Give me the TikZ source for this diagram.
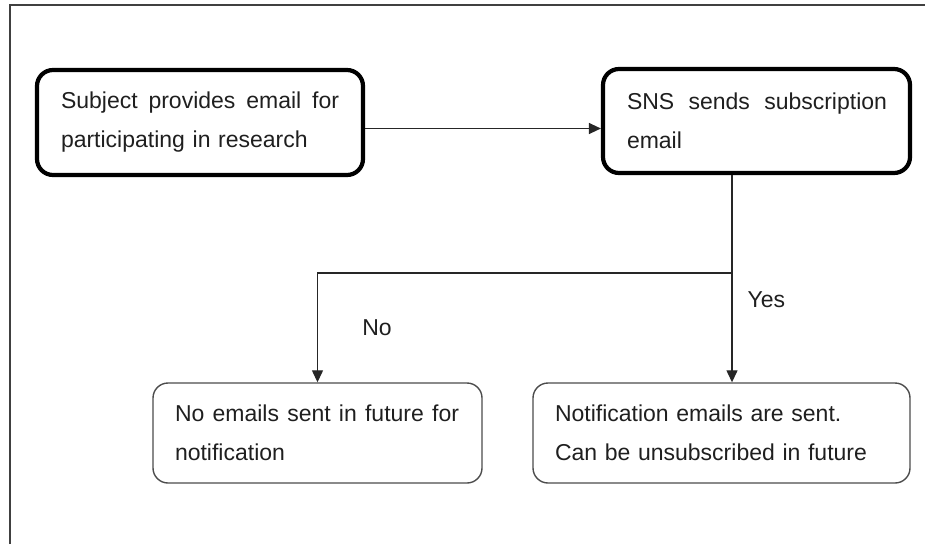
\documentclass[tikz,border=0pt]{standalone}
\usepackage{fontspec}
\setmainfont{Liberation Sans}
\usetikzlibrary{arrows.meta}
% a line spread to the given width, with the gaps between words widened evenly
\newcommand\spreadline[2]{\hbox to #1{\def\gap{ \hfill}#2}}
\begin{document}
\begin{tikzpicture}[x=1pt,y=-1pt,
  every node/.style={font=\fontsize{23}{39}\selectfont, text=black!88},
  mainbox/.style={draw=black, line width=4.2pt, rounded corners=16pt, align=left, inner ysep=0pt},
  outbox/.style={draw=black!70, line width=1.4pt, rounded corners=15pt, align=left, inner ysep=0pt},
  link/.style={draw=black!85, line width=1.3pt},
  arr/.style={link, -{Triangle[length=12pt,width=11pt]}}]
  \useasboundingbox (0,0) rectangle (925,544);
  % page frame (left and top rules)
  \draw[black!75, line width=1.6pt] (10,544) -- (10,5) -- (925,5);

  % upper row
  \node[mainbox, minimum width=326pt, minimum height=105pt, inner xsep=24pt, text width=278pt]
    (b1) at (200,122.5) {\spreadline{278pt}{Subject\gap provides\gap email\gap for}\\participating in research};
  \node[mainbox, minimum width=307pt, minimum height=104pt, inner xsep=24pt, text width=259pt]
    (b2) at (756.5,121) {\spreadline{260pt}{SNS\gap sends\gap subscription}\\email};

  % lower row
  \node[outbox, minimum width=329pt, minimum height=100pt, inner xsep=22pt, text width=285pt]
    (b3) at (317.5,433) {\spreadline{284pt}{No\gap emails\gap sent\gap in\gap future\gap for}\\notification};
  \node[outbox, minimum width=377pt, minimum height=100pt, inner xsep=22pt, text width=333pt]
    (b4) at (721.5,433) {Notification emails are sent.\\Can be unsubscribed in future};

  % connectors
  \draw[arr] ([yshift=-6pt]b1.east) -- ([yshift=-6pt]b1.east -| b2.west);
  \coordinate (split) at (732,273);
  \draw[link] (b2.south -| split) -- (split);
  \draw[arr] (split) -| (b3.north);
  \draw[arr] (split) -- (b4.north -| split);

  % branch labels
  \node (no) at (377,328) {No};
  \node[anchor=west] (yes) at (744,300) {Yes};
\end{tikzpicture}
\end{document}
